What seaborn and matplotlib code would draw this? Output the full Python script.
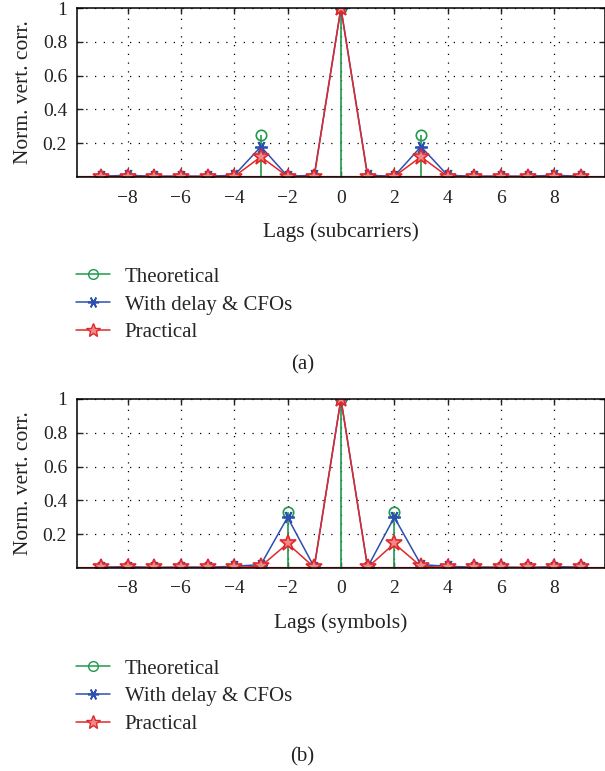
import numpy as np
import pandas as pd
import matplotlib
matplotlib.use("Agg")
import matplotlib.pyplot as plt
from matplotlib.lines import Line2D
import seaborn as sns

# lags for both panels
lags = list(range(-9, 10))

# panel (a): lags in subcarriers
theo_a = [0, 0, 0, 0, 0, 0, 0.25, 0, 0, 1, 0, 0, 0.25, 0, 0, 0, 0, 0, 0]
delay_a = [0.005, 0.01, 0.005, 0.005, 0.005, 0.01, 0.18, 0.005, 0.01, 1,
           0.01, 0.005, 0.18, 0.01, 0.005, 0.005, 0.005, 0.01, 0.005]
prac_a = [0.003, 0.003, 0.003, 0.003, 0.003, 0.003, 0.12, 0.003, 0.003, 1,
          0.003, 0.003, 0.12, 0.003, 0.003, 0.003, 0.003, 0.003, 0.003]

# panel (b): lags in symbols
theo_b = [0, 0, 0, 0, 0, 0, 0, 0.33, 0, 1, 0, 0.33, 0, 0, 0, 0, 0, 0, 0]
delay_b = [0.005, 0.008, 0.003, 0.005, 0.005, 0.01, 0.02, 0.30, 0.005, 1,
           0.005, 0.30, 0.02, 0.01, 0.005, 0.005, 0.003, 0.008, 0.005]
prac_b = [0.003, 0.003, 0.003, 0.003, 0.003, 0.003, 0.01, 0.145, 0.003, 1,
          0.003, 0.145, 0.01, 0.003, 0.003, 0.003, 0.003, 0.003, 0.003]

series_names = ["Theoretical", "With delay & CFOs", "Practical"]
xticks = [-8, -6, -4, -2, 0, 2, 4, 6, 8]
yticks = [0.2, 0.4, 0.6, 0.8, 1.0]
ytick_labels = ["0.2", "0.4", "0.6", "0.8", "1"]

GREEN = "#1f9a4a"
BLUE = "#2c4fb0"
RED = "#e0282a"
RED_FILL = "#f08a8a"
TXT = "#222222"
ASTER = (6, 2, 90)

sns.set_theme(style="white")
plt.rcParams["font.family"] = ["Liberation Serif", "DejaVu Serif"]
plt.rcParams["font.size"] = 14


def panel(ax, theo, delay, prac, xlabel):
    df = pd.DataFrame({"lag": lags, "theo": theo, "delay": delay, "prac": prac})
    ax.grid(True, color="black", linestyle=(0, (1, 6)), linewidth=0.9)
    ax.axhline(0, color=RED, lw=1.6, zorder=1)
    ml, sl, bl = ax.stem(df["lag"], df["theo"], basefmt=" ")
    plt.setp(sl, color=GREEN, lw=1.2)
    plt.setp(ml, color=GREEN, marker="o", markersize=7.5,
             markerfacecolor="none", markeredgewidth=1.2)
    sns.lineplot(data=df, x="lag", y="delay", ax=ax, color=BLUE, lw=1.1,
                 marker=ASTER, markersize=9, markeredgecolor=BLUE,
                 markeredgewidth=1.3)
    sns.lineplot(data=df, x="lag", y="prac", ax=ax, color=RED, lw=1.1,
                 marker="*", markersize=12, markerfacecolor=RED_FILL,
                 markeredgecolor=RED, markeredgewidth=1.2)
    ax.set_xlim(-9.9, 9.9)
    ax.set_ylim(0, 1)
    ax.set_xticks(xticks)
    ax.set_yticks(yticks)
    ax.set_yticklabels(ytick_labels)
    ax.tick_params(direction="in", length=4, width=1, bottom=True, left=True,
                   top=True, right=True, labelsize=14, colors=TXT)
    ax.tick_params(axis="x", pad=9)
    ax.tick_params(axis="y", pad=7)
    for s in ax.spines.values():
        s.set_color("black")
        s.set_linewidth(1.1)
    ax.set_xlabel(xlabel, fontsize=15.5, labelpad=11, color=TXT)
    ax.set_ylabel("Norm. vert. corr.", fontsize=15.5, labelpad=7, color=TXT)


fig = plt.figure(figsize=(6.05, 7.71), dpi=100)
ax1 = fig.add_axes([0.127, 0.7704, 0.873, 0.2192])
ax2 = fig.add_axes([0.127, 0.2633, 0.873, 0.2192])
panel(ax1, theo_a, delay_a, prac_a, "Lags (subcarriers)")
panel(ax2, theo_b, delay_b, prac_b, "Lags (symbols)")

handles = [
    Line2D([], [], color=GREEN, marker="o", markerfacecolor="none", markersize=7, lw=1.1),
    Line2D([], [], color=BLUE, marker=ASTER, markersize=8, markeredgewidth=1.2, lw=1.1),
    Line2D([], [], color=RED, marker="*", markerfacecolor=RED_FILL, markersize=10, lw=1.1),
]
for y in (1 - 267 / 771, 1 - 659 / 771):
    fig.legend(handles, series_names, loc="upper left",
               bbox_to_anchor=(0.126, y), frameon=False, fontsize=15,
               handlelength=1.6, handletextpad=0.72, labelspacing=0.4,
               borderpad=0, borderaxespad=0)

fig.text(0.5, 1 - 365 / 771, "(a)", ha="center", va="center", fontsize=15, color=TXT)
fig.text(0.5, 1 - 757 / 771, "(b)", ha="center", va="center", fontsize=15, color=TXT)

fig.savefig("out.png", dpi=100)
